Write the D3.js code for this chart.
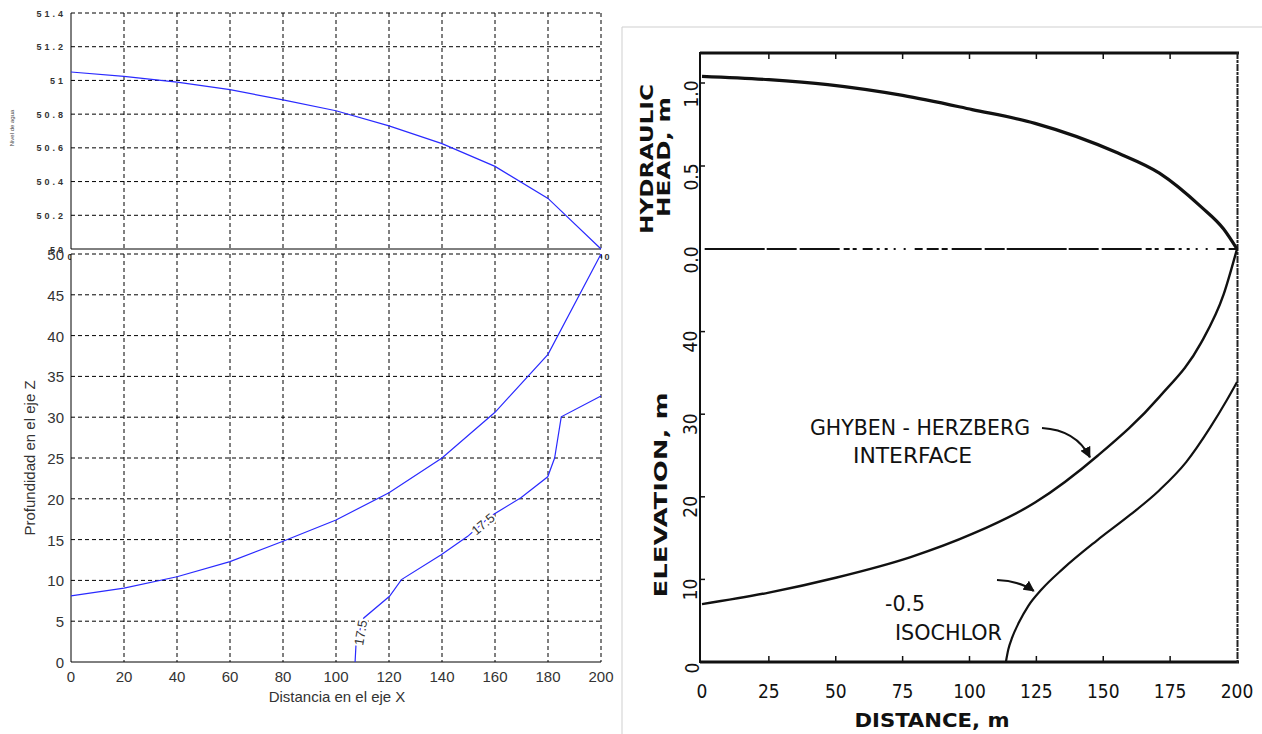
<!DOCTYPE html>
<html>
<head>
<meta charset="utf-8">
<script src="https://cdn.jsdelivr.net/npm/d3@7"></script>
<style>
  body { margin: 0; background: #fff; }
  svg { display: block; }
</style>
</head>
<body>
<script>
// ---- data: left (MATLAB) panels ----
var distX = [0, 20, 40, 60, 80, 100, 120, 140, 160, 180, 200];
var nivelAgua = [51.05, 51.024, 50.99, 50.945, 50.885, 50.82, 50.73, 50.625, 50.49, 50.3, 50.0];
var interfazZ = [8.1, 9.05, 10.45, 12.3, 14.8, 17.4, 20.75, 25.0, 30.6, 37.7, 50];
var contourX = [107.2, 107.6, 110.5, 120.2, 124.7, 139.7, 149.7, 158, 169.9, 179.9, 182.5, 185, 200];
var contourZ = [0, 2.5, 5.4, 8.06, 10.1, 13.15, 15.4, 17.8, 20.15, 22.7, 25, 30.05, 32.6];
var contourLabels = [{x: 109.3, z: 3.6, angle: -80}, {x: 155.5, z: 16.9, angle: -40}];
var topTicksY = [50, 50.2, 50.4, 50.6, 50.8, 51, 51.2, 51.4];
var botTicksY = [0, 5, 10, 15, 20, 25, 30, 35, 40, 45, 50];

// ---- data: right (scanned) figure ----
var headX = [0, 25, 47, 75, 101, 124.5, 155.5, 171, 186.5, 195, 200];
var headH = [1.04, 1.02, 0.99, 0.925, 0.84, 0.757, 0.578, 0.457, 0.255, 0.12, 0];
var ghX = [0, 25, 50, 78, 101, 124.5, 148, 171, 186.5, 195, 200];
var ghZ = [7.0, 8.4, 10.2, 12.7, 15.5, 19.3, 25.0, 32.1, 38.6, 44.5, 50];
var isoX = [113.6, 114.5, 116, 118.5, 122, 127, 135, 147.6, 160, 171, 181, 190, 196, 200];
var isoZ = [0, 1.5, 3, 4.8, 6.8, 8.8, 11.3, 14.7, 17.8, 20.8, 24.2, 28.4, 31.6, 33.9];
var distTicks = [0, 25, 50, 75, 100, 125, 150, 175, 200];
var elevTicks = [10, 20, 30, 40];
var headTicks = [{v: 1.0, t: "1.0"}, {v: 0.5, t: "0.5"}, {v: 0.0, t: "0.0"}];

var svg = d3.select("body").append("svg").attr("width", 1262).attr("height", 734);

// ================= LEFT =================
var xL = d3.scaleLinear().domain([0, 200]).range([71, 601]);
var yTop = d3.scaleLinear().domain([50, 51.4]).range([249, 13]);
var yBot = d3.scaleLinear().domain([0, 50]).range([662, 254]);
var blue = "#2a2aff";
var smallFont = "Liberation Sans, Arial, sans-serif";

// top panel grid
var gTop = svg.append("g");
gTop.selectAll(".vg").data(distX.slice(1)).enter().append("line")
  .attr("x1", d => xL(d)).attr("x2", d => xL(d)).attr("y1", yTop(51.4)).attr("y2", yTop(50))
  .attr("stroke", "#000").attr("stroke-dasharray", "4,3");
gTop.selectAll(".hg").data(topTicksY.slice(1)).enter().append("line")
  .attr("x1", xL(0)).attr("x2", xL(200)).attr("y1", d => yTop(d)).attr("y2", d => yTop(d))
  .attr("stroke", "#000").attr("stroke-dasharray", "4,3");
gTop.append("line").attr("x1", xL(0)).attr("x2", xL(0)).attr("y1", yTop(51.4)).attr("y2", yTop(50)).attr("stroke", "#000");
gTop.append("line").attr("x1", xL(0)).attr("x2", xL(200)).attr("y1", yTop(50)).attr("y2", yTop(50)).attr("stroke", "#000");

gTop.selectAll(".yl").data(topTicksY).enter().append("text")
  .attr("x", 66).attr("y", d => yTop(d) + 3.5)
  .attr("text-anchor", "end").attr("font-family", smallFont).attr("font-size", 9).attr("font-weight", "bold")
  .attr("letter-spacing", 3).attr("fill", "#333")
  .text(d => d3.format("~g")(+d.toFixed(1)));
gTop.selectAll(".xl").data(distX).enter().append("text")
  .attr("x", d => xL(d)).attr("y", 260)
  .attr("text-anchor", "middle").attr("font-family", smallFont).attr("font-size", 9).attr("font-weight", "bold")
  .attr("letter-spacing", 2).attr("fill", "#333").text(d => d);
gTop.append("text").attr("transform", "translate(14,128) rotate(-90)")
  .attr("text-anchor", "middle").attr("font-family", smallFont).attr("font-size", 6).attr("fill", "#444")
  .text("Nivel de agua");

gTop.append("path")
  .datum(distX.map((d, i) => [d, nivelAgua[i]]))
  .attr("d", d3.line().x(d => xL(d[0])).y(d => yTop(d[1])))
  .attr("fill", "none").attr("stroke", blue).attr("stroke-width", 1.2);

// bottom panel
var gBot = svg.append("g");
gBot.append("rect").attr("x", xL(0)).attr("y", yBot(50)).attr("width", xL(200) - xL(0)).attr("height", yBot(0) - yBot(50)).attr("fill", "#fff");
gBot.selectAll(".vg").data(distX.slice(1)).enter().append("line")
  .attr("x1", d => xL(d)).attr("x2", d => xL(d)).attr("y1", yBot(50)).attr("y2", yBot(0))
  .attr("stroke", "#000").attr("stroke-dasharray", "4,3");
gBot.selectAll(".hg").data(botTicksY.slice(1)).enter().append("line")
  .attr("x1", xL(0)).attr("x2", xL(200)).attr("y1", d => yBot(d)).attr("y2", d => yBot(d))
  .attr("stroke", "#000").attr("stroke-dasharray", "4,3");
gBot.append("line").attr("x1", xL(0)).attr("x2", xL(0)).attr("y1", yBot(50)).attr("y2", yBot(0)).attr("stroke", "#000");
gBot.append("line").attr("x1", xL(0)).attr("x2", xL(200)).attr("y1", yBot(0)).attr("y2", yBot(0)).attr("stroke", "#000");

gBot.selectAll(".yl").data(botTicksY).enter().append("text")
  .attr("x", 64).attr("y", d => yBot(d) + 6)
  .attr("text-anchor", "end").attr("font-family", smallFont).attr("font-size", 15).attr("fill", "#333")
  .text(d => d);
gBot.selectAll(".xl").data(distX).enter().append("text")
  .attr("x", d => xL(d)).attr("y", 682)
  .attr("text-anchor", "middle").attr("font-family", smallFont).attr("font-size", 15).attr("fill", "#333")
  .text(d => d);
gBot.append("text").attr("x", 337).attr("y", 702).attr("text-anchor", "middle")
  .attr("font-family", smallFont).attr("font-size", 15).attr("fill", "#333").text("Distancia en el eje X");
gBot.append("text").attr("transform", "translate(35,458) rotate(-90)").attr("text-anchor", "middle")
  .attr("font-family", smallFont).attr("font-size", 15).attr("fill", "#333").text("Profundidad en el eje Z");

var lineBot = d3.line().x(d => xL(d[0])).y(d => yBot(d[1]));
gBot.append("path").datum(distX.map((d, i) => [d, interfazZ[i]]))
  .attr("d", lineBot).attr("fill", "none").attr("stroke", blue).attr("stroke-width", 1.2);
gBot.append("path").datum(contourX.map((d, i) => [d, contourZ[i]]))
  .attr("d", lineBot).attr("fill", "none").attr("stroke", blue).attr("stroke-width", 1.2);
gBot.selectAll(".cl").data(contourLabels).enter().append("text")
  .attr("transform", d => "translate(" + xL(d.x) + "," + yBot(d.z) + ") rotate(" + d.angle + ")")
  .attr("text-anchor", "middle").attr("dy", "0.35em")
  .attr("font-family", smallFont).attr("font-size", 13).attr("fill", "#333")
  .attr("stroke", "#fff").attr("stroke-width", 4).attr("paint-order", "stroke")
  .text("17.5");

// ================= RIGHT =================
var xR = d3.scaleLinear().domain([0, 200]).range([702, 1237]);
var yHead = d3.scaleLinear().domain([0, 1]).range([249, 83]);
var yElev = d3.scaleLinear().domain([0, 50]).range([662, 249]);
var narrow = "'Liberation Sans Narrow', 'DejaVu Sans Condensed', 'Arial Narrow', sans-serif";

var gR = svg.append("g");
// light scan border
gR.append("line").attr("x1", 622).attr("x2", 1262).attr("y1", 27).attr("y2", 27).attr("stroke", "#cfcfcf");
gR.append("line").attr("x1", 622).attr("x2", 622).attr("y1", 27).attr("y2", 734).attr("stroke", "#cfcfcf");

// frame
gR.append("line").attr("x1", 700).attr("x2", 700).attr("y1", 52).attr("y2", 663).attr("stroke", "#111").attr("stroke-width", 2);
gR.append("line").attr("x1", 700).attr("x2", 1239).attr("y1", 53).attr("y2", 53).attr("stroke", "#111").attr("stroke-width", 3);
gR.append("line").attr("x1", 700).attr("x2", 1239).attr("y1", 662).attr("y2", 662).attr("stroke", "#111").attr("stroke-width", 3);
gR.append("line").attr("x1", 1237.5).attr("x2", 1237.5).attr("y1", 52).attr("y2", 663).attr("stroke", "#222").attr("stroke-width", 2)
  .attr("stroke-dasharray", "7,1,3,1");
// sea level line 0.0
gR.append("line").attr("x1", xR(1)).attr("x2", xR(200)).attr("y1", yHead(0)).attr("y2", yHead(0))
  .attr("stroke", "#111").attr("stroke-width", 2)
  .attr("stroke-dasharray", "60,2,30,3,40,4,6,3,4,6,10,4,3,5,3,6,2,8,2,9,8,4,12,3,6,4,30,3,20,2");

// ticks
gR.selectAll(".bt").data(distTicks.slice(1, -1)).enter().append("line")
  .attr("x1", d => xR(d)).attr("x2", d => xR(d)).attr("y1", 662).attr("y2", 656).attr("stroke", "#111").attr("stroke-width", 1.5);
gR.selectAll(".tt").data(distTicks.slice(1, -1)).enter().append("line")
  .attr("x1", d => xR(d)).attr("x2", d => xR(d)).attr("y1", 53).attr("y2", 59).attr("stroke", "#111").attr("stroke-width", 1.5);
gR.selectAll(".lt").data(elevTicks).enter().append("line")
  .attr("x1", 700).attr("x2", 705).attr("y1", d => yElev(d)).attr("y2", d => yElev(d)).attr("stroke", "#111").attr("stroke-width", 1.5);
gR.selectAll(".ht").data([1.0, 0.5]).enter().append("line")
  .attr("x1", 700).attr("x2", 705).attr("y1", d => yHead(d)).attr("y2", d => yHead(d)).attr("stroke", "#111").attr("stroke-width", 1.5);

// tick labels
gR.selectAll(".xlab").data(distTicks).enter().append("text")
  .attr("x", d => xR(d)).attr("y", 698).attr("text-anchor", "middle")
  .attr("font-family", narrow).attr("font-size", 19).attr("fill", "#111").text(d => d);
gR.selectAll(".elab").data(elevTicks).enter().append("text")
  .attr("transform", d => "translate(690," + (yElev(d) + 10) + ") rotate(-90)")
  .attr("text-anchor", "middle").attr("dy", "0.35em")
  .attr("font-family", narrow).attr("font-size", 19).attr("fill", "#111").text(d => d);
gR.append("text").attr("transform", "translate(692,668) rotate(-90)")
  .attr("text-anchor", "middle").attr("dy", "0.35em")
  .attr("font-family", narrow).attr("font-size", 19).attr("fill", "#111").text("0");
gR.selectAll(".hlab").data(headTicks).enter().append("text")
  .attr("transform", d => "translate(691," + (yHead(d.v) + 11) + ") rotate(-90)")
  .attr("text-anchor", "middle").attr("dy", "0.35em")
  .attr("font-family", narrow).attr("font-size", 19).attr("fill", "#111").text(d => d.t);

// axis titles
var bold = "'DejaVu Sans Condensed', 'Liberation Sans Narrow', sans-serif";
gR.append("text").attr("transform", "translate(647,159) rotate(-90)").attr("text-anchor", "middle").attr("dy", "0.35em")
  .attr("font-family", bold).attr("font-weight", "bold").attr("font-size", 17)
  .attr("textLength", 150).attr("lengthAdjust", "spacingAndGlyphs").attr("fill", "#111").text("HYDRAULIC");
gR.append("text").attr("transform", "translate(664,157) rotate(-90)").attr("text-anchor", "middle").attr("dy", "0.35em")
  .attr("font-family", bold).attr("font-weight", "bold").attr("font-size", 17)
  .attr("textLength", 120).attr("lengthAdjust", "spacingAndGlyphs").attr("fill", "#111").text("HEAD, m");
gR.append("text").attr("transform", "translate(661,495) rotate(-90)").attr("text-anchor", "middle").attr("dy", "0.35em")
  .attr("font-family", bold).attr("font-weight", "bold").attr("font-size", 18)
  .attr("textLength", 205).attr("lengthAdjust", "spacingAndGlyphs").attr("fill", "#111").text("ELEVATION, m");
gR.append("text").attr("x", 932).attr("y", 727).attr("text-anchor", "middle")
  .attr("font-family", bold).attr("font-weight", "bold").attr("font-size", 19)
  .attr("textLength", 155).attr("lengthAdjust", "spacingAndGlyphs").attr("fill", "#111").text("DISTANCE, m");

// curves
var curveR = d3.curveMonotoneX;
gR.append("path").datum(headX.map((d, i) => [d, headH[i]]))
  .attr("d", d3.line().curve(curveR).x(d => xR(d[0])).y(d => yHead(d[1])))
  .attr("fill", "none").attr("stroke", "#111").attr("stroke-width", 3.2);
var lineElev = d3.line().curve(curveR).x(d => xR(d[0])).y(d => yElev(d[1]));
gR.append("path").datum(ghX.map((d, i) => [d, ghZ[i]]))
  .attr("d", lineElev).attr("fill", "none").attr("stroke", "#111").attr("stroke-width", 2.4);
gR.append("path").datum(isoX.map((d, i) => [d, isoZ[i]]))
  .attr("d", lineElev).attr("fill", "none").attr("stroke", "#111").attr("stroke-width", 2.2);

// annotations
gR.append("text").attr("x", 810).attr("y", 435).attr("font-family", narrow).attr("font-size", 22)
  .attr("textLength", 220).attr("lengthAdjust", "spacingAndGlyphs").attr("fill", "#111").text("GHYBEN - HERZBERG");
gR.append("text").attr("x", 853).attr("y", 463).attr("font-family", narrow).attr("font-size", 22)
  .attr("textLength", 119).attr("lengthAdjust", "spacingAndGlyphs").attr("fill", "#111").text("INTERFACE");
gR.append("text").attr("x", 885).attr("y", 611).attr("font-family", narrow).attr("font-size", 22)
  .attr("textLength", 40).attr("lengthAdjust", "spacingAndGlyphs").attr("fill", "#111").text("-0.5");
gR.append("text").attr("x", 895).attr("y", 640).attr("font-family", narrow).attr("font-size", 22)
  .attr("textLength", 107).attr("lengthAdjust", "spacingAndGlyphs").attr("fill", "#111").text("ISOCHLOR");

svg.append("defs").append("marker").attr("id", "ah").attr("viewBox", "0 0 10 10")
  .attr("refX", 9).attr("refY", 5).attr("markerWidth", 5).attr("markerHeight", 5).attr("orient", "auto")
  .append("path").attr("d", "M0,0 L10,5 L0,10 z").attr("fill", "#111");
var arrows = [
  {x0: 1042, y0: 428, cx: 1076, cy: 430, x: 145, z: 24.8},
  {x0: 997, y0: 580, cx: 1020, cy: 581, x: 124, z: 8.6}
];
gR.selectAll(".arr").data(arrows).enter().append("path")
  .attr("d", d => "M" + d.x0 + "," + d.y0 + " Q" + d.cx + "," + d.cy + " " + xR(d.x) + "," + yElev(d.z))
  .attr("fill", "none").attr("stroke", "#111").attr("stroke-width", 2.2).attr("marker-end", "url(#ah)");
</script>
</body>
</html>
